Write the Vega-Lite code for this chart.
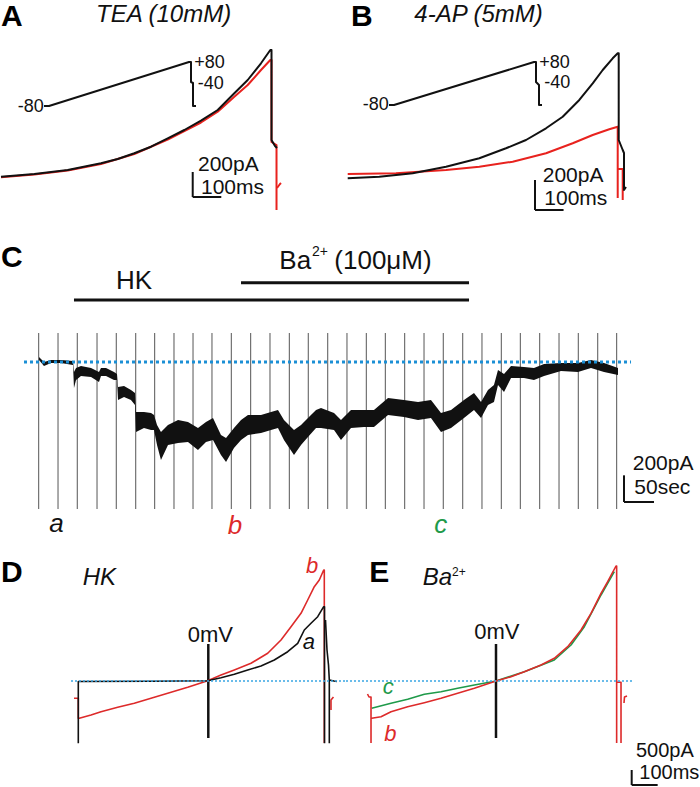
{
"$schema": "https://vega.github.io/schema/vega-lite/v6.json",
"padding": 0,
"background": "white",
"spacing": 0,
"config": {"view": {"stroke": null}},
"datasets": {
"traces": [
{"panel":"A","cond":"drug","piece":"Ar","x":0,"y":-10.4},{"panel":"A","cond":"drug","piece":"Ar","x":116.6,"y":12},{"panel":"A","cond":"drug","piece":"Ar","x":233.5,"y":44},{"panel":"A","cond":"drug","piece":"Ar","x":350,"y":96},{"panel":"A","cond":"drug","piece":"Ar","x":466.6,"y":176},{"panel":"A","cond":"drug","piece":"Ar","x":583.5,"y":292},{"panel":"A","cond":"drug","piece":"Ar","x":700,"y":428},{"panel":"A","cond":"drug","piece":"Ar","x":758.5,"y":514.4},{"panel":"A","cond":"drug","piece":"Ar","x":816.6,"y":634.4},{"panel":"A","cond":"drug","piece":"Ar","x":863.5,"y":728},{"panel":"A","cond":"drug","piece":"Ar","x":910,"y":848},{"panel":"A","cond":"drug","piece":"Ar","x":942.6,"y":928},{"panel":"A","cond":"drug","piece":"Ar","x":946.8,"y":928},{"panel":"A","cond":"drug","piece":"Ar","x":946.8,"y":272},{"panel":"A","cond":"drug","piece":"Ar","x":964.3,"y":248},{"panel":"A","cond":"drug","piece":"Ar","x":964.3,"y":-272},
{"panel":"A","cond":"drug","piece":"Arh","x":966,"y":-96},{"panel":"A","cond":"drug","piece":"Arh","x":976.5,"y":-64},{"panel":"A","cond":"drug","piece":"Arh","x":980,"y":-56},
{"panel":"A","cond":"control","piece":"Ak","x":0,"y":-5.6},{"panel":"A","cond":"control","piece":"Ak","x":116.6,"y":16},{"panel":"A","cond":"control","piece":"Ak","x":233.5,"y":48},{"panel":"A","cond":"control","piece":"Ak","x":350,"y":101.6},{"panel":"A","cond":"control","piece":"Ak","x":408.5,"y":136},{"panel":"A","cond":"control","piece":"Ak","x":466.6,"y":181.6},{"panel":"A","cond":"control","piece":"Ak","x":525,"y":234.4},{"panel":"A","cond":"control","piece":"Ak","x":583.5,"y":301.6},{"panel":"A","cond":"control","piece":"Ak","x":641.6,"y":368},{"panel":"A","cond":"control","piece":"Ak","x":700,"y":442.4},{"panel":"A","cond":"control","piece":"Ak","x":758.5,"y":528},{"panel":"A","cond":"control","piece":"Ak","x":816.6,"y":661.6},{"panel":"A","cond":"control","piece":"Ak","x":863.5,"y":768},{"panel":"A","cond":"control","piece":"Ak","x":910,"y":901.6},{"panel":"A","cond":"control","piece":"Ak","x":942.6,"y":1008},{"panel":"A","cond":"control","piece":"Ak","x":946.8,"y":1008},{"panel":"A","cond":"control","piece":"Ak","x":946.8,"y":288},{"panel":"A","cond":"control","piece":"Ak","x":959,"y":240},{"panel":"A","cond":"control","piece":"Ak","x":966,"y":224},
{"panel":"A","cond":"proto","piece":"Ap","x":150.5,"y":560},{"panel":"A","cond":"proto","piece":"Ap","x":168,"y":560},{"panel":"A","cond":"proto","piece":"Ap","x":658,"y":912},{"panel":"A","cond":"proto","piece":"Ap","x":665,"y":912},{"panel":"A","cond":"proto","piece":"Ap","x":665,"y":752},{"panel":"A","cond":"proto","piece":"Ap","x":672,"y":744},{"panel":"A","cond":"proto","piece":"Ap","x":672,"y":560},{"panel":"A","cond":"proto","piece":"Ap","x":682.5,"y":560},
{"panel":"B","cond":"drug","piece":"Br","x":6,"y":13.3},{"panel":"B","cond":"drug","piece":"Br","x":175,"y":18},{"panel":"B","cond":"drug","piece":"Br","x":350,"y":40},{"panel":"B","cond":"drug","piece":"Br","x":466.6,"y":62},{"panel":"B","cond":"drug","piece":"Br","x":583.5,"y":95.3},{"panel":"B","cond":"drug","piece":"Br","x":700,"y":151.3},{"panel":"B","cond":"drug","piece":"Br","x":793.5,"y":218},{"panel":"B","cond":"drug","piece":"Br","x":863.5,"y":273.3},{"panel":"B","cond":"drug","piece":"Br","x":921.5,"y":311.3},{"panel":"B","cond":"drug","piece":"Br","x":951,"y":328.7},{"panel":"B","cond":"drug","piece":"Br","x":951,"y":-146.7},
{"panel":"B","cond":"drug","piece":"Br2","x":951,"y":46.7},{"panel":"B","cond":"drug","piece":"Br2","x":968.5,"y":46.7},{"panel":"B","cond":"drug","piece":"Br2","x":968.5,"y":-160},
{"panel":"B","cond":"control","piece":"Bk","x":6,"y":-15.3},{"panel":"B","cond":"control","piece":"Bk","x":116.6,"y":-4.7},{"panel":"B","cond":"control","piece":"Bk","x":233.5,"y":18},{"panel":"B","cond":"control","piece":"Bk","x":350,"y":62},{"panel":"B","cond":"control","piece":"Bk","x":466.6,"y":118},{"panel":"B","cond":"control","piece":"Bk","x":560,"y":184.7},{"panel":"B","cond":"control","piece":"Bk","x":630,"y":240},{"panel":"B","cond":"control","piece":"Bk","x":700,"y":318},{"panel":"B","cond":"control","piece":"Bk","x":758.5,"y":395.3},{"panel":"B","cond":"control","piece":"Bk","x":816.6,"y":506.7},{"panel":"B","cond":"control","piece":"Bk","x":863.5,"y":618},{"panel":"B","cond":"control","piece":"Bk","x":898.5,"y":706.7},{"panel":"B","cond":"control","piece":"Bk","x":933.5,"y":784.7},{"panel":"B","cond":"control","piece":"Bk","x":951,"y":818},{"panel":"B","cond":"control","piece":"Bk","x":954.5,"y":818},{"panel":"B","cond":"control","piece":"Bk","x":954.5,"y":240},{"panel":"B","cond":"control","piece":"Bk","x":968.5,"y":173.3},{"panel":"B","cond":"control","piece":"Bk","x":973,"y":153.3},{"panel":"B","cond":"control","piece":"Bk","x":973,"y":-93.3},{"panel":"B","cond":"control","piece":"Bk","x":980,"y":-73.3},
{"panel":"B","cond":"proto","piece":"Bp","x":150.5,"y":473.3},{"panel":"B","cond":"proto","piece":"Bp","x":168,"y":473.3},{"panel":"B","cond":"proto","piece":"Bp","x":658,"y":760},{"panel":"B","cond":"proto","piece":"Bp","x":665,"y":760},{"panel":"B","cond":"proto","piece":"Bp","x":665,"y":626.7},{"panel":"B","cond":"proto","piece":"Bp","x":675.5,"y":606.7},{"panel":"B","cond":"proto","piece":"Bp","x":675.5,"y":473.3},{"panel":"B","cond":"proto","piece":"Bp","x":686,"y":473.3},
{"panel":"D","cond":"b","piece":"Db","x":281,"y":-576.7},{"panel":"D","cond":"b","piece":"Db","x":297.6,"y":-576.7},{"panel":"D","cond":"b","piece":"Db","x":297.6,"y":-1243.3},{"panel":"D","cond":"b","piece":"Db","x":301.5,"y":-1243.3},{"panel":"D","cond":"b","piece":"Db","x":346.5,"y":-1133.3},{"panel":"D","cond":"b","piece":"Db","x":385,"y":-1023.3},{"panel":"D","cond":"b","piece":"Db","x":449.3,"y":-876.7},{"panel":"D","cond":"b","piece":"Db","x":513.2,"y":-743.3},{"panel":"D","cond":"b","piece":"Db","x":577.5,"y":-576.7},{"panel":"D","cond":"b","piece":"Db","x":641.8,"y":-410},{"panel":"D","cond":"b","piece":"Db","x":718.8,"y":-210},{"panel":"D","cond":"b","piece":"Db","x":795.8,"y":10},{"panel":"D","cond":"b","piece":"Db","x":847,"y":200},{"panel":"D","cond":"b","piece":"Db","x":898.2,"y":366.7},{"panel":"D","cond":"b","piece":"Db","x":962.5,"y":590},{"panel":"D","cond":"b","piece":"Db","x":1026.8,"y":923.3},{"panel":"D","cond":"b","piece":"Db","x":1078,"y":1366.7},{"panel":"D","cond":"b","piece":"Db","x":1116.5,"y":1810},{"panel":"D","cond":"b","piece":"Db","x":1155,"y":2256.7},{"panel":"D","cond":"b","piece":"Db","x":1180.8,"y":2700},{"panel":"D","cond":"b","piece":"Db","x":1206.2,"y":3143.3},{"panel":"D","cond":"b","piece":"Db","x":1225.5,"y":3366.7},{"panel":"D","cond":"b","piece":"Db","x":1242.4,"y":3700},{"panel":"D","cond":"b","piece":"Db","x":1244.7,"y":3700},{"panel":"D","cond":"b","piece":"Db","x":1244.7,"y":-2066.7},
{"panel":"D","cond":"b","piece":"Dbh","x":1270.5,"y":-966.7},{"panel":"D","cond":"b","piece":"Dbh","x":1270.5,"y":-633.3},{"panel":"D","cond":"b","piece":"Dbh","x":1280,"y":-533.3},
{"panel":"D","cond":"a","piece":"Da","x":297.6,"y":-2076.7},{"panel":"D","cond":"a","piece":"Da","x":297.6,"y":-16.7},{"panel":"D","cond":"a","piece":"Da","x":577.5,"y":-10},{"panel":"D","cond":"a","piece":"Da","x":795.8,"y":10},{"panel":"D","cond":"a","piece":"Da","x":847,"y":110},{"panel":"D","cond":"a","piece":"Da","x":898.2,"y":223.3},{"panel":"D","cond":"a","piece":"Da","x":949.8,"y":366.7},{"panel":"D","cond":"a","piece":"Da","x":1001,"y":500},{"panel":"D","cond":"a","piece":"Da","x":1052.2,"y":700},{"panel":"D","cond":"a","piece":"Da","x":1103.8,"y":976.7},{"panel":"D","cond":"a","piece":"Da","x":1142.3,"y":1256.7},{"panel":"D","cond":"a","piece":"Da","x":1167.7,"y":1700},{"panel":"D","cond":"a","piece":"Da","x":1193.5,"y":1923.3},{"panel":"D","cond":"a","piece":"Da","x":1219.3,"y":2143.3},{"panel":"D","cond":"a","piece":"Da","x":1242.4,"y":2476.7},{"panel":"D","cond":"a","piece":"Da","x":1245.5,"y":2476.7},{"panel":"D","cond":"a","piece":"Da","x":1245.5,"y":-2076.7},
{"panel":"D","cond":"a","piece":"Da2","x":1249.3,"y":2033.3},{"panel":"D","cond":"a","piece":"Da2","x":1255.1,"y":1033.3},{"panel":"D","cond":"a","piece":"Da2","x":1260.9,"y":533.3},{"panel":"D","cond":"a","piece":"Da2","x":1264,"y":33.3},{"panel":"D","cond":"a","piece":"Da2","x":1264,"y":-2076.7},
{"panel":"D","cond":"a","piece":"Da3","x":1264,"y":33.3},{"panel":"D","cond":"a","piece":"Da3","x":1282,"y":0},{"panel":"D","cond":"a","piece":"Da3","x":1293.6,"y":-16.7},
{"panel":"E","cond":"c","piece":"Ec","x":98.8,"y":-910},{"panel":"E","cond":"c","piece":"Ec","x":173.3,"y":-743.3},{"panel":"E","cond":"c","piece":"Ec","x":237.4,"y":-610},{"panel":"E","cond":"c","piece":"Ec","x":301.5,"y":-443.3},{"panel":"E","cond":"c","piece":"Ec","x":365.8,"y":-356.7},{"panel":"E","cond":"c","piece":"Ec","x":429.9,"y":-243.3},{"panel":"E","cond":"c","piece":"Ec","x":494.1,"y":-133.3},{"panel":"E","cond":"c","piece":"Ec","x":577.5,"y":0},{"panel":"E","cond":"c","piece":"Ec","x":686.6,"y":310},{"panel":"E","cond":"c","piece":"Ec","x":802,"y":700},{"panel":"E","cond":"c","piece":"Ec","x":866.3,"y":1200},{"panel":"E","cond":"c","piece":"Ec","x":917.6,"y":1810},{"panel":"E","cond":"c","piece":"Ec","x":981.8,"y":2866.7},{"panel":"E","cond":"c","piece":"Ec","x":1033,"y":3643.3},
{"panel":"E","cond":"b","piece":"Eb0","x":82.8,"y":-433.3},{"panel":"E","cond":"b","piece":"Eb0","x":88.6,"y":-533.3},{"panel":"E","cond":"b","piece":"Eb0","x":96.3,"y":-533.3},{"panel":"E","cond":"b","piece":"Eb0","x":96.3,"y":-2066.7},
{"panel":"E","cond":"b","piece":"Eb","x":96.3,"y":-1243.3},{"panel":"E","cond":"b","piece":"Eb","x":98.8,"y":-1243.3},{"panel":"E","cond":"b","piece":"Eb","x":134.8,"y":-1190},{"panel":"E","cond":"b","piece":"Eb","x":173.3,"y":-1023.3},{"panel":"E","cond":"b","piece":"Eb","x":237.4,"y":-856.7},{"panel":"E","cond":"b","piece":"Eb","x":301.5,"y":-723.3},{"panel":"E","cond":"b","piece":"Eb","x":365.8,"y":-576.7},{"panel":"E","cond":"b","piece":"Eb","x":429.9,"y":-410},{"panel":"E","cond":"b","piece":"Eb","x":494.1,"y":-243.3},{"panel":"E","cond":"b","piece":"Eb","x":577.5,"y":0},{"panel":"E","cond":"b","piece":"Eb","x":635.3,"y":143.3},{"panel":"E","cond":"b","piece":"Eb","x":686.6,"y":310},{"panel":"E","cond":"b","piece":"Eb","x":750.8,"y":533.3},{"panel":"E","cond":"b","piece":"Eb","x":802,"y":756.7},{"panel":"E","cond":"b","piece":"Eb","x":853.5,"y":1143.3},{"panel":"E","cond":"b","piece":"Eb","x":904.8,"y":1700},{"panel":"E","cond":"b","piece":"Eb","x":943.3,"y":2256.7},{"panel":"E","cond":"b","piece":"Eb","x":981.8,"y":2923.3},{"panel":"E","cond":"b","piece":"Eb","x":1007.5,"y":3310},{"panel":"E","cond":"b","piece":"Eb","x":1039.5,"y":3833.3},{"panel":"E","cond":"b","piece":"Eb","x":1042,"y":3833.3},{"panel":"E","cond":"b","piece":"Eb","x":1042,"y":-2066.7},
{"panel":"E","cond":"b","piece":"Eb2","x":1042,"y":-43.3},{"panel":"E","cond":"b","piece":"Eb2","x":1058.8,"y":-43.3},{"panel":"E","cond":"b","piece":"Eb2","x":1058.8,"y":-2066.7},
{"panel":"E","cond":"b","piece":"Ebh","x":1070.3,"y":-733.3},{"panel":"E","cond":"b","piece":"Ebh","x":1072.2,"y":-533.3},{"panel":"E","cond":"b","piece":"Ebh","x":1081.9,"y":-500}
],
"band": [
{"x":0,"hi":37.5,"lo":15},{"x":8.3,"hi":0,"lo":-30},{"x":20,"hi":15,"lo":-7.5},{"x":36.7,"hi":15,"lo":-7.5},{"x":56.7,"hi":7.5,"lo":-22.5},{"x":58.3,"hi":-75,"lo":-195},{"x":61.7,"hi":-45,"lo":-135},{"x":70,"hi":-30,"lo":-105},{"x":86.7,"hi":-45,"lo":-112.5},{"x":100,"hi":-75,"lo":-150},{"x":103.3,"hi":-45,"lo":-105},{"x":111.7,"hi":-45,"lo":-105},{"x":125,"hi":-75,"lo":-135},{"x":130,"hi":-90,"lo":-135},{"x":131.7,"hi":-187.5,"lo":-285},{"x":141.7,"hi":-180,"lo":-262.5},{"x":153.3,"hi":-210,"lo":-285},{"x":160,"hi":-232.5,"lo":-322.5},{"x":161.7,"hi":-375,"lo":-525},{"x":175,"hi":-375,"lo":-495},{"x":186.7,"hi":-382.5,"lo":-510},{"x":191.7,"hi":-397.5,"lo":-510},{"x":196.7,"hi":-472.5,"lo":-622.5},{"x":203.3,"hi":-525,"lo":-735},{"x":215,"hi":-472.5,"lo":-622.5},{"x":231.7,"hi":-435,"lo":-607.5},{"x":248.3,"hi":-450,"lo":-600},{"x":265,"hi":-495,"lo":-660},{"x":278.3,"hi":-450,"lo":-600},{"x":290,"hi":-420,"lo":-585},{"x":303.3,"hi":-547.5,"lo":-697.5},{"x":311.7,"hi":-570,"lo":-750},{"x":325,"hi":-495,"lo":-645},{"x":336.7,"hi":-435,"lo":-585},{"x":348.3,"hi":-397.5,"lo":-547.5},{"x":370,"hi":-397.5,"lo":-532.5},{"x":386.7,"hi":-375,"lo":-510},{"x":398.3,"hi":-360,"lo":-495},{"x":408.3,"hi":-435,"lo":-585},{"x":425,"hi":-510,"lo":-697.5},{"x":436.7,"hi":-472.5,"lo":-622.5},{"x":448.3,"hi":-420,"lo":-562.5},{"x":461.7,"hi":-360,"lo":-495},{"x":470,"hi":-345,"lo":-495},{"x":491.7,"hi":-382.5,"lo":-510},{"x":503.3,"hi":-435,"lo":-585},{"x":520,"hi":-360,"lo":-495},{"x":541.7,"hi":-360,"lo":-487.5},{"x":558.3,"hi":-360,"lo":-487.5},{"x":581.7,"hi":-270,"lo":-397.5},{"x":608.3,"hi":-285,"lo":-412.5},{"x":631.7,"hi":-300,"lo":-435},{"x":653.3,"hi":-285,"lo":-420},{"x":670,"hi":-382.5,"lo":-525},{"x":686.7,"hi":-360,"lo":-495},{"x":708.3,"hi":-285,"lo":-420},{"x":725,"hi":-232.5,"lo":-360},{"x":736.7,"hi":-300,"lo":-420},{"x":748.3,"hi":-210,"lo":-322.5},{"x":758.3,"hi":-172.5,"lo":-300},{"x":765,"hi":-60,"lo":-172.5},{"x":775,"hi":-90,"lo":-225},{"x":786.7,"hi":-30,"lo":-120},{"x":808.3,"hi":-37.5,"lo":-120},{"x":825,"hi":-45,"lo":-135},{"x":841.7,"hi":-15,"lo":-105},{"x":870,"hi":-7.5,"lo":-67.5},{"x":898.3,"hi":-7.5,"lo":-75},{"x":920,"hi":15,"lo":-45},{"x":941.7,"hi":-7.5,"lo":-75},{"x":965,"hi":-45,"lo":-97.5}
],
"ramps": [
{"x":-0.5,"y":217.5,"y2":-1102.5},{"x":31.7,"y":217.5,"y2":-1102.5},{"x":63.8,"y":217.5,"y2":-1102.5},{"x":96.7,"y":217.5,"y2":-1102.5},{"x":128.8,"y":217.5,"y2":-1102.5},{"x":161.2,"y":217.5,"y2":-1102.5},{"x":192.8,"y":217.5,"y2":-1102.5},{"x":225,"y":217.5,"y2":-1102.5},{"x":256.7,"y":217.5,"y2":-1102.5},{"x":288.3,"y":217.5,"y2":-1102.5},{"x":320.5,"y":217.5,"y2":-1102.5},{"x":352.8,"y":217.5,"y2":-1102.5},{"x":385,"y":217.5,"y2":-1102.5},{"x":417.2,"y":217.5,"y2":-1102.5},{"x":448.8,"y":217.5,"y2":-1102.5},{"x":481.2,"y":217.5,"y2":-1102.5},{"x":513.3,"y":217.5,"y2":-1102.5},{"x":545.5,"y":217.5,"y2":-1102.5},{"x":577.2,"y":217.5,"y2":-1102.5},{"x":609.5,"y":217.5,"y2":-1102.5},{"x":641.7,"y":217.5,"y2":-1102.5},{"x":673.8,"y":217.5,"y2":-1102.5},{"x":706.2,"y":217.5,"y2":-1102.5},{"x":738.3,"y":217.5,"y2":-1102.5},{"x":770.5,"y":217.5,"y2":-1102.5},{"x":802.2,"y":217.5,"y2":-1102.5},{"x":834.5,"y":217.5,"y2":-1102.5},{"x":866.7,"y":217.5,"y2":-1102.5},{"x":898.8,"y":217.5,"y2":-1102.5},{"x":931.2,"y":217.5,"y2":-1102.5},{"x":962.8,"y":217.5,"y2":-1102.5}
],
"rules": [
{"panel":"A","kind":"scalebar","x":671,"y":32,"x2":671,"y2":-168},{"panel":"A","kind":"scalebar","x":671,"y":-168,"x2":771,"y2":-168},
{"panel":"B","kind":"scalebar","x":661.5,"y":-26.7,"x2":661.5,"y2":-226.7},{"panel":"B","kind":"scalebar","x":661.5,"y":-226.7,"x2":761.5,"y2":-226.7},
{"panel":"C","kind":"scalebar","x":975,"y":-850,"x2":975,"y2":-1050},{"panel":"C","kind":"scalebar","x":975,"y":-1050,"x2":1025,"y2":-1050},
{"panel":"C","kind":"bar","x":58.3,"y":465,"x2":716.7,"y2":465},{"panel":"C","kind":"bar","x":336.7,"y":594.75,"x2":716.7,"y2":594.75},
{"panel":"D","kind":"zero","x":798.1,"y":1233.3,"x2":798.1,"y2":-1900},
{"panel":"E","kind":"zero","x":577.5,"y":1233.3,"x2":577.5,"y2":-1900},
{"panel":"E","kind":"scalebar","x":1099.9,"y":-2966.7,"x2":1099.9,"y2":-3466.7},{"panel":"E","kind":"scalebar","x":1099.9,"y":-3466.7,"x2":1199.9,"y2":-3466.7}
],
"dotted": [
{"panel":"C","x":-25,"x2":986.7,"y":0},
{"panel":"D","x":269.5,"x2":1328.25,"y":0},
{"panel":"E","x":0,"x2":1108.8,"y":0}
],
"texts": [
{"panel":"A","kind":"letter","cond":"proto","text":"A","x":0,"y":1200},
{"panel":"A","kind":"title","cond":"proto","text":"TEA (10mM)","x":332.5,"y":1234.4},
{"panel":"A","kind":"protocol","cond":"proto","text":"-80","x":58.5,"y":514.4},
{"panel":"A","kind":"protocol","cond":"proto","text":"+80","x":676.6,"y":861.6},
{"panel":"A","kind":"protocol","cond":"proto","text":"-40","x":688.5,"y":693.6},
{"panel":"A","kind":"scale","cond":"proto","text":"200pA","x":689.5,"y":42.4},
{"panel":"A","kind":"scale","cond":"proto","text":"100ms","x":700,"y":-144},
{"panel":"B","kind":"letter","cond":"proto","text":"B","x":17.5,"y":1000},
{"panel":"B","kind":"title","cond":"proto","text":"4-AP (5mM)","x":239,"y":1028.7},
{"panel":"B","kind":"protocol","cond":"proto","text":"-80","x":58.5,"y":440},
{"panel":"B","kind":"protocol","cond":"proto","text":"+80","x":676.6,"y":718},
{"panel":"B","kind":"protocol","cond":"proto","text":"-40","x":694,"y":584.7},
{"panel":"B","kind":"scale","cond":"proto","text":"200pA","x":688.5,"y":-38},
{"panel":"B","kind":"scale","cond":"proto","text":"100ms","x":694,"y":-193.3},
{"panel":"C","kind":"letter","cond":"proto","text":"C","x":-63.3,"y":714.75},
{"panel":"C","kind":"drugbig","cond":"proto","text":"HK","x":128.3,"y":545.25},
{"panel":"C","kind":"drugbig","cond":"proto","text":"Ba","x":400.5,"y":695.25},
{"panel":"C","kind":"sup","cond":"proto","text":"2+","x":455,"y":795},
{"panel":"C","kind":"drugbig","cond":"proto","text":"(100μM)","x":492.2,"y":695.25},
{"panel":"C","kind":"scale","cond":"proto","text":"200pA","x":989.5,"y":-810},
{"panel":"C","kind":"scale","cond":"proto","text":"50sec","x":992.2,"y":-990},
{"panel":"C","kind":"tracebig","cond":"a","text":"a","x":17.2,"y":-1275},
{"panel":"C","kind":"tracebig","cond":"b","text":"b","x":314.5,"y":-1292.25},
{"panel":"C","kind":"tracebig","cond":"c","text":"c","x":658.8,"y":-1282.5},
{"panel":"D","kind":"letter","cond":"proto","text":"D","x":0,"y":3310},
{"panel":"D","kind":"drugital","cond":"proto","text":"HK","x":314.5,"y":3200},
{"panel":"D","kind":"zero","cond":"proto","text":"0mV","x":718.8,"y":1310},
{"panel":"D","kind":"trace","cond":"b","text":"b","x":1174.3,"y":3590},
{"panel":"D","kind":"trace","cond":"a","text":"a","x":1161.5,"y":1056.7},
{"panel":"E","kind":"letter","cond":"proto","text":"E","x":89.7,"y":3310},
{"panel":"E","kind":"drugital","cond":"proto","text":"Ba","x":295.3,"y":3200},
{"panel":"E","kind":"supsmall","cond":"proto","text":"2+","x":408,"y":3500},
{"panel":"E","kind":"zero","cond":"proto","text":"0mV","x":494,"y":1400},
{"panel":"E","kind":"trace","cond":"c","text":"c","x":141.3,"y":-443.3},
{"panel":"E","kind":"trace","cond":"b","text":"b","x":147.5,"y":-1990},
{"panel":"E","kind":"scalesm","cond":"proto","text":"500pA","x":1116.5,"y":-2523.3},
{"panel":"E","kind":"scalesm","cond":"proto","text":"100ms","x":1129.2,"y":-3276.7}
]
},
"vconcat": [
{"hconcat": [
{"width": 345, "height": 230,
 "encoding": {"x": {"field": "x", "type": "quantitative", "scale": {"domain": [0, 1207.5], "nice": false, "zero": false}, "axis": null},
              "y": {"field": "y", "type": "quantitative", "scale": {"domain": [-432, 1408], "nice": false, "zero": false}, "axis": null}},
 "layer": [
  {"data": {"name": "traces"}, "transform": [{"filter": "datum.panel === 'A'"}], "mark": {"type": "line", "strokeWidth": 2, "strokeJoin": "round"},
   "encoding": {"color": {"field": "cond", "type": "nominal", "scale": {"domain": ["control","drug","a","b","c","proto"], "range": ["#111111","#e8221e","#111111","#dd2a2a","#1f9a4a","#111111"]}, "legend": null}, "detail": {"field": "piece"}, "order": {"value": null}}},
  {"data": {"name": "rules"}, "transform": [{"filter": "datum.panel === 'A'"}], "mark": {"type": "rule", "strokeWidth": 2, "color": "#111111"}, "encoding": {"x2": {"field": "x2"}, "y2": {"field": "y2"}}},
  {"data": {"name": "texts"}, "transform": [{"filter": "datum.panel === 'A' && indexof(['letter','title','trace','tracebig','drugital'], datum.kind) < 0"}], "mark": {"type": "text", "align": "left", "baseline": "alphabetic", "font": "Liberation Sans"},
   "encoding": {"text": {"field": "text"}, "size": {"field": "kind", "type": "nominal", "scale": {"type": "ordinal", "domain": ["letter","title","protocol","scale","drugbig","sup","zero","supsmall","tracebig","trace","drugital","scalesm"], "range": [30,24,18,21,26,14,22,12,26,22,24,20]}, "legend": null}, "color": {"field": "cond", "type": "nominal", "legend": null}}},
  {"data": {"name": "texts"}, "transform": [{"filter": "datum.panel === 'A' && datum.kind === 'title'"}], "mark": {"type": "text", "align": "left", "baseline": "alphabetic", "font": "Liberation Sans", "fontStyle": "italic", "fontSize": 24, "color": "#111111"}, "encoding": {"text": {"field": "text"}}},
  {"data": {"name": "texts"}, "transform": [{"filter": "datum.panel === 'A' && datum.kind === 'letter'"}], "mark": {"type": "text", "align": "left", "baseline": "alphabetic", "font": "Liberation Sans", "fontWeight": "bold", "fontSize": 30, "color": "#000000"}, "encoding": {"text": {"field": "text"}}}
 ]},
{"width": 355, "height": 230,
 "encoding": {"x": {"field": "x", "type": "quantitative", "scale": {"domain": [0, 1242.5], "nice": false, "zero": false}, "axis": null},
              "y": {"field": "y", "type": "quantitative", "scale": {"domain": [-360, 1173.3], "nice": false, "zero": false}, "axis": null}},
 "layer": [
  {"data": {"name": "traces"}, "transform": [{"filter": "datum.panel === 'B'"}], "mark": {"type": "line", "strokeWidth": 2, "strokeJoin": "round"},
   "encoding": {"color": {"field": "cond", "type": "nominal", "scale": {"domain": ["control","drug","a","b","c","proto"], "range": ["#111111","#e8221e","#111111","#dd2a2a","#1f9a4a","#111111"]}, "legend": null}, "detail": {"field": "piece"}, "order": {"value": null}}},
  {"data": {"name": "rules"}, "transform": [{"filter": "datum.panel === 'B'"}], "mark": {"type": "rule", "strokeWidth": 2, "color": "#111111"}, "encoding": {"x2": {"field": "x2"}, "y2": {"field": "y2"}}},
  {"data": {"name": "texts"}, "transform": [{"filter": "datum.panel === 'B' && indexof(['letter','title','trace','tracebig','drugital'], datum.kind) < 0"}], "mark": {"type": "text", "align": "left", "baseline": "alphabetic", "font": "Liberation Sans"},
   "encoding": {"text": {"field": "text"}, "size": {"field": "kind", "type": "nominal", "scale": {"type": "ordinal", "domain": ["letter","title","protocol","scale","drugbig","sup","zero","supsmall","tracebig","trace","drugital","scalesm"], "range": [30,24,18,21,26,14,22,12,26,22,24,20]}, "legend": null}, "color": {"field": "cond", "type": "nominal", "legend": null}}},
  {"data": {"name": "texts"}, "transform": [{"filter": "datum.panel === 'B' && datum.kind === 'title'"}], "mark": {"type": "text", "align": "left", "baseline": "alphabetic", "font": "Liberation Sans", "fontStyle": "italic", "fontSize": 24, "color": "#111111"}, "encoding": {"text": {"field": "text"}}},
  {"data": {"name": "texts"}, "transform": [{"filter": "datum.panel === 'B' && datum.kind === 'letter'"}], "mark": {"type": "text", "align": "left", "baseline": "alphabetic", "font": "Liberation Sans", "fontWeight": "bold", "fontSize": 30, "color": "#000000"}, "encoding": {"text": {"field": "text"}}}
 ]}
], "spacing": 0, "bounds": "flush"},
{"width": 700, "height": 315,
 "encoding": {"x": {"field": "x", "type": "quantitative", "scale": {"domain": [-63.33, 1103.33], "nice": false, "zero": false}, "axis": null},
              "y": {"field": "y", "type": "quantitative", "scale": {"domain": [-1372.5, 990], "nice": false, "zero": false}, "axis": null}},
 "layer": [
  {"data": {"name": "ramps"}, "mark": {"type": "rule", "strokeWidth": 1, "color": "#555555"}, "encoding": {"y2": {"field": "y2"}}},
  {"data": {"name": "band"}, "mark": {"type": "area", "color": "#111111"}, "encoding": {"y": {"field": "hi", "type": "quantitative"}, "y2": {"field": "lo"}}},
  {"data": {"name": "dotted"}, "transform": [{"filter": "datum.panel === 'C'"}], "mark": {"type": "rule", "strokeWidth": 3, "strokeDash": [3, 3], "color": "#1b8fd5"}, "encoding": {"x2": {"field": "x2"}}},
  {"data": {"name": "rules"}, "transform": [{"filter": "datum.panel === 'C' && datum.kind === 'bar'"}], "mark": {"type": "rule", "strokeWidth": 3, "color": "#111111"}, "encoding": {"x2": {"field": "x2"}, "y2": {"field": "y2"}}},
  {"data": {"name": "rules"}, "transform": [{"filter": "datum.panel === 'C' && datum.kind === 'scalebar'"}], "mark": {"type": "rule", "strokeWidth": 2, "color": "#111111"}, "encoding": {"x2": {"field": "x2"}, "y2": {"field": "y2"}}},
  {"data": {"name": "texts"}, "transform": [{"filter": "datum.panel === 'C' && indexof(['letter','title','trace','tracebig','drugital'], datum.kind) < 0"}], "mark": {"type": "text", "align": "left", "baseline": "alphabetic", "font": "Liberation Sans"},
   "encoding": {"text": {"field": "text"}, "size": {"field": "kind", "type": "nominal", "scale": {"type": "ordinal", "domain": ["letter","title","protocol","scale","drugbig","sup","zero","supsmall","tracebig","trace","drugital","scalesm"], "range": [30,24,18,21,26,14,22,12,26,22,24,20]}, "legend": null}, "color": {"field": "cond", "type": "nominal", "scale": {"domain": ["control","drug","a","b","c","proto"], "range": ["#111111","#e8221e","#111111","#dd2a2a","#1f9a4a","#111111"]}, "legend": null}}},
  {"data": {"name": "texts"}, "transform": [{"filter": "datum.panel === 'C' && datum.kind === 'tracebig'"}], "mark": {"type": "text", "align": "left", "baseline": "alphabetic", "font": "Liberation Sans", "fontStyle": "italic", "fontSize": 26},
   "encoding": {"text": {"field": "text"}, "color": {"field": "cond", "type": "nominal", "legend": null}}},
  {"data": {"name": "texts"}, "transform": [{"filter": "datum.panel === 'C' && datum.kind === 'letter'"}], "mark": {"type": "text", "align": "left", "baseline": "alphabetic", "font": "Liberation Sans", "fontWeight": "bold", "fontSize": 30, "color": "#000000"}, "encoding": {"text": {"field": "text"}}}
 ]},
{"hconcat": [
{"width": 345, "height": 242,
 "encoding": {"x": {"field": "x", "type": "quantitative", "scale": {"domain": [0, 1328.25], "nice": false, "zero": false}, "axis": null},
              "y": {"field": "y", "type": "quantitative", "scale": {"domain": [-3533.3, 4533.3], "nice": false, "zero": false}, "axis": null}},
 "layer": [
  {"data": {"name": "rules"}, "transform": [{"filter": "datum.panel === 'D'"}], "mark": {"type": "rule", "strokeWidth": 2.5, "color": "#111111"}, "encoding": {"x2": {"field": "x2"}, "y2": {"field": "y2"}}},
  {"data": {"name": "traces"}, "transform": [{"filter": "datum.panel === 'D'"}], "mark": {"type": "line", "strokeWidth": 1.6, "strokeJoin": "round"},
   "encoding": {"color": {"field": "cond", "type": "nominal", "scale": {"domain": ["control","drug","a","b","c","proto"], "range": ["#111111","#e8221e","#111111","#dd2a2a","#1f9a4a","#111111"]}, "legend": null}, "detail": {"field": "piece"}, "order": {"value": null}}},
  {"data": {"name": "dotted"}, "transform": [{"filter": "datum.panel === 'D'"}], "mark": {"type": "rule", "strokeWidth": 1.3, "strokeDash": [2, 2], "color": "#3aa6e4"}, "encoding": {"x2": {"field": "x2"}}},
  {"data": {"name": "texts"}, "transform": [{"filter": "datum.panel === 'D' && indexof(['letter','title','trace','tracebig','drugital'], datum.kind) < 0"}], "mark": {"type": "text", "align": "left", "baseline": "alphabetic", "font": "Liberation Sans"},
   "encoding": {"text": {"field": "text"}, "size": {"field": "kind", "type": "nominal", "scale": {"type": "ordinal", "domain": ["letter","title","protocol","scale","drugbig","sup","zero","supsmall","tracebig","trace","drugital","scalesm"], "range": [30,24,18,21,26,14,22,12,26,22,24,20]}, "legend": null}, "color": {"field": "cond", "type": "nominal", "legend": null}}},
  {"data": {"name": "texts"}, "transform": [{"filter": "datum.panel === 'D' && (datum.kind === 'trace' || datum.kind === 'drugital')"}], "mark": {"type": "text", "align": "left", "baseline": "alphabetic", "font": "Liberation Sans", "fontStyle": "italic"},
   "encoding": {"text": {"field": "text"}, "size": {"field": "kind", "type": "nominal", "scale": {"type": "ordinal", "domain": ["letter","title","protocol","scale","drugbig","sup","zero","supsmall","tracebig","trace","drugital","scalesm"], "range": [30,24,18,21,26,14,22,12,26,22,24,20]}, "legend": null}, "color": {"field": "cond", "type": "nominal", "legend": null}}},
  {"data": {"name": "texts"}, "transform": [{"filter": "datum.panel === 'D' && datum.kind === 'letter'"}], "mark": {"type": "text", "align": "left", "baseline": "alphabetic", "font": "Liberation Sans", "fontWeight": "bold", "fontSize": 30, "color": "#000000"}, "encoding": {"text": {"field": "text"}}}
 ]},
{"width": 355, "height": 242,
 "encoding": {"x": {"field": "x", "type": "quantitative", "scale": {"domain": [0, 1366.75], "nice": false, "zero": false}, "axis": null},
              "y": {"field": "y", "type": "quantitative", "scale": {"domain": [-3533.3, 4533.3], "nice": false, "zero": false}, "axis": null}},
 "layer": [
  {"data": {"name": "rules"}, "transform": [{"filter": "datum.panel === 'E' && datum.kind === 'zero'"}], "mark": {"type": "rule", "strokeWidth": 2.5, "color": "#111111"}, "encoding": {"x2": {"field": "x2"}, "y2": {"field": "y2"}}},
  {"data": {"name": "rules"}, "transform": [{"filter": "datum.panel === 'E' && datum.kind === 'scalebar'"}], "mark": {"type": "rule", "strokeWidth": 2, "color": "#111111"}, "encoding": {"x2": {"field": "x2"}, "y2": {"field": "y2"}}},
  {"data": {"name": "traces"}, "transform": [{"filter": "datum.panel === 'E'"}], "mark": {"type": "line", "strokeWidth": 1.6, "strokeJoin": "round"},
   "encoding": {"color": {"field": "cond", "type": "nominal", "scale": {"domain": ["control","drug","a","b","c","proto"], "range": ["#111111","#e8221e","#111111","#dd2a2a","#1f9a4a","#111111"]}, "legend": null}, "detail": {"field": "piece"}, "order": {"value": null}}},
  {"data": {"name": "dotted"}, "transform": [{"filter": "datum.panel === 'E'"}], "mark": {"type": "rule", "strokeWidth": 1.3, "strokeDash": [2, 2], "color": "#3aa6e4"}, "encoding": {"x2": {"field": "x2"}}},
  {"data": {"name": "texts"}, "transform": [{"filter": "datum.panel === 'E' && indexof(['letter','title','trace','tracebig','drugital'], datum.kind) < 0"}], "mark": {"type": "text", "align": "left", "baseline": "alphabetic", "font": "Liberation Sans"},
   "encoding": {"text": {"field": "text"}, "size": {"field": "kind", "type": "nominal", "scale": {"type": "ordinal", "domain": ["letter","title","protocol","scale","drugbig","sup","zero","supsmall","tracebig","trace","drugital","scalesm"], "range": [30,24,18,21,26,14,22,12,26,22,24,20]}, "legend": null}, "color": {"field": "cond", "type": "nominal", "legend": null}}},
  {"data": {"name": "texts"}, "transform": [{"filter": "datum.panel === 'E' && (datum.kind === 'trace' || datum.kind === 'drugital')"}], "mark": {"type": "text", "align": "left", "baseline": "alphabetic", "font": "Liberation Sans", "fontStyle": "italic"},
   "encoding": {"text": {"field": "text"}, "size": {"field": "kind", "type": "nominal", "scale": {"type": "ordinal", "domain": ["letter","title","protocol","scale","drugbig","sup","zero","supsmall","tracebig","trace","drugital","scalesm"], "range": [30,24,18,21,26,14,22,12,26,22,24,20]}, "legend": null}, "color": {"field": "cond", "type": "nominal", "legend": null}}},
  {"data": {"name": "texts"}, "transform": [{"filter": "datum.panel === 'E' && datum.kind === 'letter'"}], "mark": {"type": "text", "align": "left", "baseline": "alphabetic", "font": "Liberation Sans", "fontWeight": "bold", "fontSize": 30, "color": "#000000"}, "encoding": {"text": {"field": "text"}}}
 ]}
], "spacing": 0, "bounds": "flush"}
]
}
